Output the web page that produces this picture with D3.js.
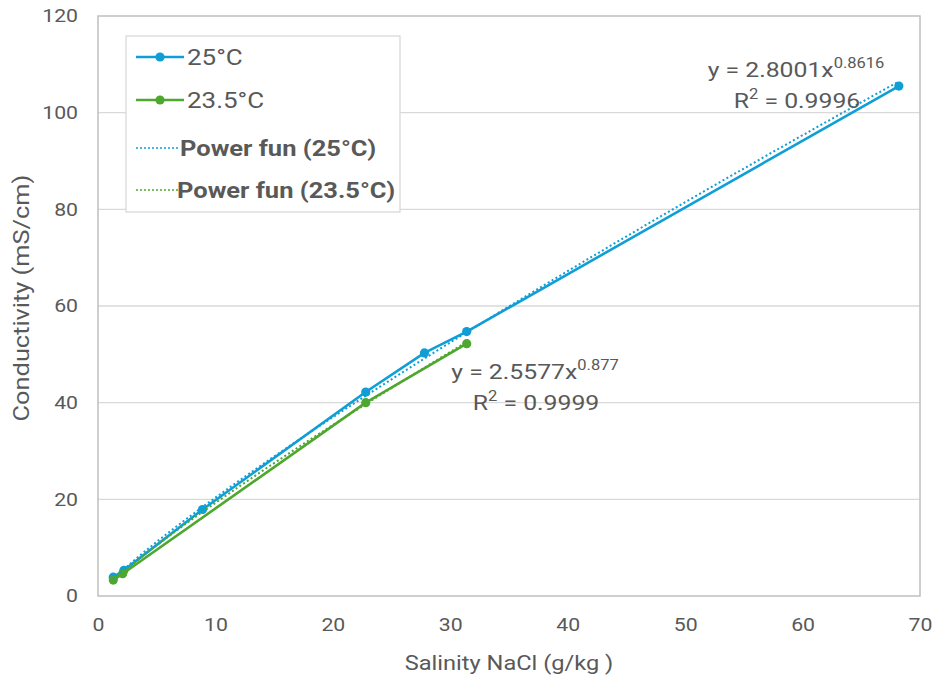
<!DOCTYPE html>
<html>
<head>
<meta charset="utf-8">
<script src="https://cdn.jsdelivr.net/npm/d3@7/dist/d3.min.js"></script>
<style>
  html, body { margin: 0; padding: 0; background: #fff; }
  svg { display: block; }
  text { font-family: "Roboto", "Liberation Sans", sans-serif; fill: #595959; }
</style>
</head>
<body>
<svg id="chart" width="936" height="676"></svg>
<script>
// Measured conductivity vs NaCl salinity at two temperatures
const salinity25 = [1.3, 2.2, 8.9, 22.8, 27.8, 31.4, 68.2];
const conductivity25 = [3.9, 5.3, 17.9, 42.2, 50.3, 54.7, 105.5];
const salinity235 = [1.3, 2.1, 22.8, 31.4];
const conductivity235 = [3.3, 4.6, 40.0, 52.2];

// Power-law fits y = a * x^b as reported on the chart
const fit25 = { a: 2.8001, b: 0.8616, r2: "0.9996" };
const fit235 = { a: 2.5577, b: 0.877, r2: "0.9999" };

const xTicks = [0, 10, 20, 30, 40, 50, 60, 70];
const yTicks = [0, 20, 40, 60, 80, 100, 120];

const blue = "#0F9ED5";
const green = "#4EA72E";

// horizontal widening applied to all lettering (wide face)
const SX = 1.18;

const svg = d3.select("#chart");
const m = { left: 98, right: 920, top: 16, bottom: 596 };

const x = d3.scaleLinear().domain([0, 70]).range([m.left, m.right]);
const y = d3.scaleLinear().domain([0, 120]).range([m.bottom, m.top]);

// place a text element at (px, py), widened horizontally
function wideText(parent, px, py, size, anchor) {
  return parent.append("text")
    .attr("transform", `translate(${px},${py}) scale(${SX},1)`)
    .attr("text-anchor", anchor || "start")
    .style("font-size", size + "px");
}

// horizontal gridlines
svg.append("g")
  .selectAll("line")
  .data(yTicks.filter(d => d > 0 && d < 120))
  .join("line")
  .attr("x1", m.left).attr("x2", m.right)
  .attr("y1", d => y(d)).attr("y2", d => y(d))
  .attr("stroke", "#d9d9d9").attr("stroke-width", 1.3);

// plot frame
svg.append("rect")
  .attr("x", m.left).attr("y", m.top)
  .attr("width", m.right - m.left).attr("height", m.bottom - m.top)
  .attr("fill", "none").attr("stroke", "#bfbfbf").attr("stroke-width", 1.5);

// axes (labels only)
const yAxis = d3.axisLeft(y).tickValues(yTicks).tickSize(0).tickPadding(20);
svg.append("g").attr("transform", `translate(${m.left},0)`).call(yAxis)
  .call(g => g.select(".domain").remove())
  .selectAll("text")
  .style("font-size", "18px").attr("fill", "#595959")
  .attr("x", -20 / SX).attr("transform", `scale(${SX},1)`);

const xAxis = d3.axisBottom(x).tickValues(xTicks).tickSize(0).tickPadding(22);
svg.append("g").attr("transform", `translate(0,${m.bottom})`).call(xAxis)
  .call(g => g.select(".domain").remove())
  .selectAll("text")
  .style("font-size", "18px").attr("fill", "#595959")
  .attr("transform", `scale(${SX},1)`);

// axis titles
wideText(svg, (m.left + m.right) / 2, 670, 20, "middle")
  .text("Salinity NaCl (g/kg )");

svg.append("text")
  .attr("transform", `translate(29,${(m.top + m.bottom) / 2 - 8}) rotate(-90) scale(${SX},1)`)
  .attr("text-anchor", "middle").style("font-size", "21.5px")
  .text("Conductivity (mS/cm)");

// power-law trend curves
function trendPoints(fit, xs) {
  const lo = d3.min(xs), hi = d3.max(xs);
  return d3.range(0, 101).map(i => {
    const xv = lo + (hi - lo) * i / 100;
    return [xv, fit.a * Math.pow(xv, fit.b)];
  });
}
const line = d3.line().x(d => x(d[0])).y(d => y(d[1]));

const series = [
  { xs: salinity25, ys: conductivity25, color: blue, fit: fit25 },
  { xs: salinity235, ys: conductivity235, color: green, fit: fit235 }
];

series.forEach(s => {
  const pts = s.xs.map((v, i) => [v, s.ys[i]]);
  svg.append("path").datum(pts)
    .attr("d", line).attr("fill", "none")
    .attr("stroke", s.color).attr("stroke-width", 2.6)
    .attr("stroke-linejoin", "round");
  svg.append("g").selectAll("circle").data(pts).join("circle")
    .attr("cx", d => x(d[0])).attr("cy", d => y(d[1])).attr("r", 4.6)
    .attr("fill", s.color);
});

series.forEach(s => {
  svg.append("path").datum(trendPoints(s.fit, s.xs))
    .attr("d", line).attr("fill", "none")
    .attr("stroke", s.color).attr("stroke-width", 2)
    .attr("stroke-dasharray", "2,2.5");
});

// fit equations
function equation(fit, cx, cy) {
  const t = wideText(svg, cx, cy, 21, "middle");
  t.append("tspan").text(`y = ${fit.a}x`);
  t.append("tspan").attr("dy", -9).style("font-size", "14px").text(String(fit.b));
  const r = wideText(svg, cx + 1, cy + 31, 21, "middle");
  r.append("tspan").text("R");
  r.append("tspan").attr("dy", -9).style("font-size", "14px").text("2");
  r.append("tspan").attr("dy", 9).text(` = ${fit.r2}`);
}
equation(fit25, 796, 77);
equation(fit235, 535, 379);

// legend
const legend = svg.append("g");
legend.append("rect")
  .attr("x", 126).attr("y", 36).attr("width", 274).attr("height", 176)
  .attr("fill", "#fff").attr("stroke", "#d9d9d9").attr("stroke-width", 1.3);

const legendItems = [
  { label: "25°C", color: blue, kind: "line", y: 57, tx: 187 },
  { label: "23.5°C", color: green, kind: "line", y: 100, tx: 187 },
  { label: "Power fun (25°C)", color: blue, kind: "dot", y: 148, tx: 180 },
  { label: "Power fun (23.5°C)", color: green, kind: "dot", y: 190, tx: 177 }
];
legendItems.forEach(it => {
  if (it.kind === "line") {
    legend.append("line").attr("x1", 136).attr("x2", 184)
      .attr("y1", it.y).attr("y2", it.y)
      .attr("stroke", it.color).attr("stroke-width", 2.6);
    legend.append("circle").attr("cx", 160).attr("cy", it.y).attr("r", 4.6)
      .attr("fill", it.color);
    wideText(legend, it.tx, it.y + 8, 22, "start").text(it.label);
  } else {
    legend.append("line").attr("x1", 136).attr("x2", 178)
      .attr("y1", it.y).attr("y2", it.y)
      .attr("stroke", it.color).attr("stroke-width", 1.6)
      .attr("stroke-dasharray", "2,2");
    wideText(legend, it.tx, it.y + 8, 21.6, "start")
      .style("font-weight", "bold").attr("fill", "#555")
      .text(it.label);
  }
});
</script>
</body>
</html>
